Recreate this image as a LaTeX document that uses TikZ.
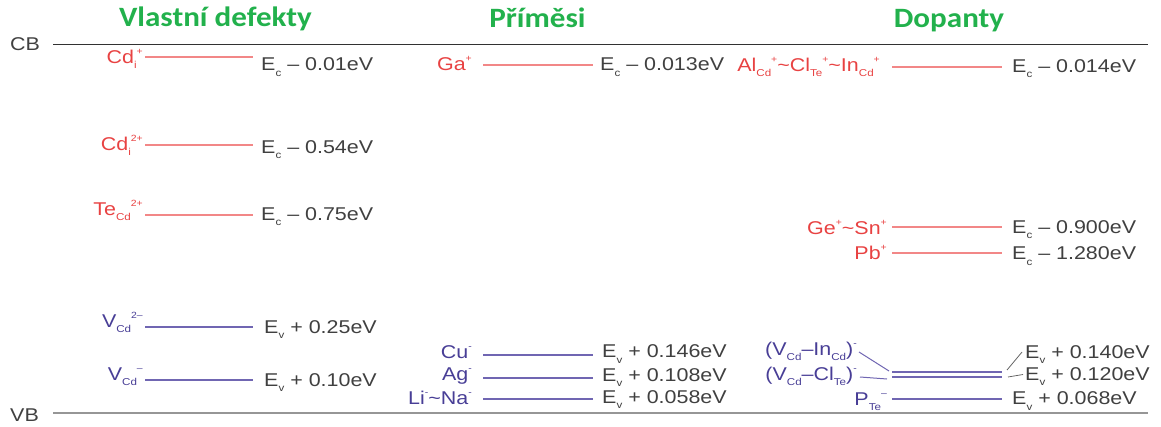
\documentclass[tikz,border=0pt]{standalone}
\usepackage{fontspec}
\setmainfont{Liberation Sans}[FakeStretch=1.16]
\newfontfamily\ttlfont{Carlito}[FakeStretch=1.11]
\definecolor{ttlgreen}{RGB}{34,177,76}
\definecolor{redtxt}{RGB}{232,66,66}
\definecolor{redln}{RGB}{242,135,135}
\definecolor{bluetxt}{RGB}{72,62,150}
\definecolor{blueln}{RGB}{112,102,178}
\definecolor{valgray}{RGB}{64,64,64}
\definecolor{cbgray}{RGB}{50,50,50}
\definecolor{vbgray}{RGB}{150,150,150}
\newcommand\sbs[1]{\raisebox{-0.3em}{\fontsize{10}{10}\selectfont #1}}
\newcommand\sps[1]{\raisebox{0.45em}{\fontsize{9}{9}\selectfont #1}}
\newcommand\tld{\textasciitilde}
\tikzset{
  base/.style={inner sep=0pt, font=\fontsize{18.5}{20}\selectfont},
  ttl/.style={inner sep=0pt, anchor=base, text=ttlgreen, font=\ttlfont\bfseries\fontsize{28}{30}\selectfont},
  band/.style={base, anchor=base west, text=valgray},
  val/.style={base, anchor=base west, text=valgray},
  redlbl/.style={base, anchor=base east, text=redtxt},
  bluelbl/.style={base, anchor=base east, text=bluetxt},
  redlvl/.style={draw=redln, line width=1.2pt},
  bluelvl/.style={draw=blueln, line width=1.2pt},
  cbline/.style={draw=cbgray, line width=1pt},
  vbline/.style={draw=vbgray, line width=2pt},
  bluelink/.style={draw=blueln, line width=1pt},
  graylink/.style={draw=valgray!80, line width=0.8pt},
}
\begin{document}
\begin{tikzpicture}[x=1pt,y=-1pt]
\useasboundingbox (0,0) rectangle (1161,426);

% titles
\node[ttl] (t1) at (215.5,26) {Vlastní defekty};
\node[ttl] (t2) at (537.5,27) {Příměsi};
\node[ttl] (t3) at (949,27) {Dopanty};

% bands
\node[band] (cb) at (10,50) {CB};
\node[band] (vb) at (10,421) {VB};
\coordinate (cbL) at (53,44);
\coordinate (cbR) at (1148,44);
\coordinate (vbL) at (53,413);
\coordinate (vbR) at (1148,413);
\draw[cbline] (cbL) -- (cbR);
\draw[vbline] (vbL) -- (vbR);

% ---- column 1 ----
\node[redlbl] (l11) at (143,63) {Cd\sbs{i}\sps{+}};
\coordinate (a11) at (145,57); \coordinate (b11) at (253,57);
\draw[redlvl] (a11) -- (b11);
\node[val] (v11) at (261,70.5) {E\sbs{c} – 0.01eV};

\node[redlbl] (l12) at (143,150) {Cd\sbs{i}\sps{2+}};
\coordinate (a12) at (145,145); \coordinate (b12) at (253,145);
\draw[redlvl] (a12) -- (b12);
\node[val] (v12) at (261,153) {E\sbs{c} – 0.54eV};

\node[redlbl] (l13) at (143,215) {Te\sbs{Cd}\sps{2+}};
\coordinate (a13) at (145,215); \coordinate (b13) at (253,215);
\draw[redlvl] (a13) -- (b13);
\node[val] (v13) at (261,220) {E\sbs{c} – 0.75eV};

\node[bluelbl] (l14) at (143,327) {V\sbs{Cd}\sps{2–}};
\coordinate (a14) at (145,327); \coordinate (b14) at (253,327);
\draw[bluelvl] (a14) -- (b14);
\node[val] (v14) at (264,333) {E\sbs{v} + 0.25eV};

\node[bluelbl] (l15) at (143,380) {V\sbs{Cd}\sps{–}};
\coordinate (a15) at (145,380); \coordinate (b15) at (253,380);
\draw[bluelvl] (a15) -- (b15);
\node[val] (v15) at (264,386) {E\sbs{v} + 0.10eV};

% ---- column 2 ----
\node[redlbl] (l21) at (472,70) {Ga\sps{+}};
\coordinate (a21) at (483,65); \coordinate (b21) at (593,65);
\draw[redlvl] (a21) -- (b21);
\node[val] (v21) at (600,70.5) {E\sbs{c} – 0.013eV};

\node[bluelbl] (l22) at (472,358) {Cu\sps{-}};
\coordinate (a22) at (483,355); \coordinate (b22) at (593,355);
\draw[bluelvl] (a22) -- (b22);
\node[val] (v22) at (602,357.5) {E\sbs{v} + 0.146eV};

\node[bluelbl] (l23) at (472,380) {Ag\sps{-}};
\coordinate (a23) at (483,378); \coordinate (b23) at (593,378);
\draw[bluelvl] (a23) -- (b23);
\node[val] (v23) at (602,381) {E\sbs{v} + 0.108eV};

\node[bluelbl] (l24) at (472,404) {Li\sps{-}\tld Na\sps{-}};
\coordinate (a24) at (483,399); \coordinate (b24) at (593,399);
\draw[bluelvl] (a24) -- (b24);
\node[val] (v24) at (602,403) {E\sbs{v} + 0.058eV};

% ---- column 3 ----
\node[redlbl] (l31) at (880,71) {Al\sbs{Cd}\sps{+}\tld Cl\sbs{Te}\sps{+}\tld In\sbs{Cd}\sps{+}};
\coordinate (a31) at (892,67); \coordinate (b31) at (1002,67);
\draw[redlvl] (a31) -- (b31);
\node[val] (v31) at (1012,72) {E\sbs{c} – 0.014eV};

\node[redlbl] (l32) at (887,234) {Ge\sps{+}\tld Sn\sps{+}};
\coordinate (a32) at (892,227); \coordinate (b32) at (1002,227);
\draw[redlvl] (a32) -- (b32);
\node[val] (v32) at (1012,233) {E\sbs{c} – 0.900eV};

\node[redlbl] (l33) at (887,259) {Pb\sps{+}};
\coordinate (a33) at (892,253); \coordinate (b33) at (1002,253);
\draw[redlvl] (a33) -- (b33);
\node[val] (v33) at (1012,259.5) {E\sbs{c} – 1.280eV};

\node[bluelbl] (l34) at (857,355) {(V\sbs{Cd}–In\sbs{Cd})\sps{-}};
\coordinate (a34) at (892,372); \coordinate (b34) at (1002,372);
\draw[bluelvl] (a34) -- (b34);
\node[val] (v34) at (1025,358) {E\sbs{v} + 0.140eV};

\node[bluelbl] (l35) at (857,380) {(V\sbs{Cd}–Cl\sbs{Te})\sps{-}};
\coordinate (a35) at (892,377); \coordinate (b35) at (1002,377);
\draw[bluelvl] (a35) -- (b35);
\node[val] (v35) at (1025,380) {E\sbs{v} + 0.120eV};

\node[bluelbl] (l36) at (887,405) {P\sbs{Te}\sps{–}};
\coordinate (a36) at (892,399); \coordinate (b36) at (1002,399);
\draw[bluelvl] (a36) -- (b36);
\node[val] (v36) at (1012,404.5) {E\sbs{v} + 0.068eV};

% connectors for the close pair
\coordinate (c1s) at (859,352); \coordinate (c1e) at (889,371);
\coordinate (c2s) at (860,377); \coordinate (c2e) at (887,379);
\draw[bluelink] (c1s) -- (c1e);
\draw[bluelink] (c2s) -- (c2e);
\coordinate (d1s) at (1007,370); \coordinate (d1e) at (1022,352);
\coordinate (d2s) at (1008,377); \coordinate (d2e) at (1023,374.5);
\draw[graylink] (d1s) -- (d1e);
\draw[graylink] (d2s) -- (d2e);
\end{tikzpicture}
\end{document}
